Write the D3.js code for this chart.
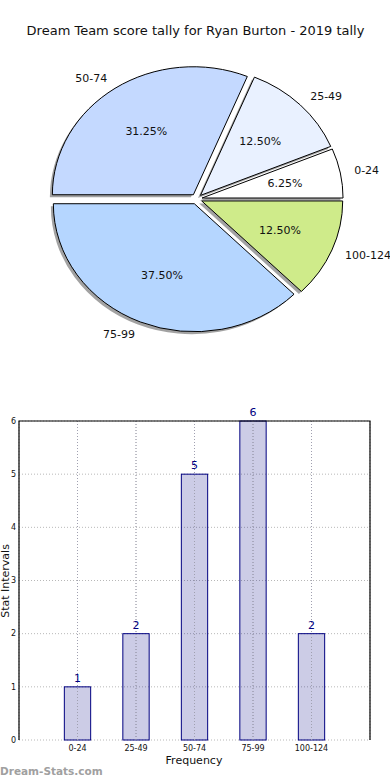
<!DOCTYPE html>
<html>
<head>
<meta charset="utf-8">
<script src="https://cdn.jsdelivr.net/npm/d3@7"></script>
<style>
  body { margin: 0; background: #fff; }
  svg { display: block; font-family: "DejaVu Sans", sans-serif; }
</style>
</head>
<body>
<div id="chart"></div>
<script>
// data
var categories = ["0-24", "25-49", "50-74", "75-99", "100-124"]
var counts = [1, 2, 5, 6, 2]
var pieColors = ["#ffffff", "#e9f1ff", "#c4d9ff", "#b5d6ff", "#cfeb8a"]
var yTicks = [0, 1, 2, 3, 4, 5, 6]
var xGrid = [-1, 0, 1, 2, 3, 4, 5]

var W = 390, H = 780

var svg = d3.select("#chart")
    .append("svg")
    .attr("width", W)
    .attr("height", H)

svg.append("text")
    .attr("x", 195.5)
    .attr("y", 35)
    .attr("text-anchor", "middle")
    .attr("font-size", 13)
    .attr("fill", "#111")
    .text("Dream Team score tally for Ryan Burton - 2019 tally")

// ---- pie (elliptical, like matplotlib with a non-square axes) ----
var cx = 196.5, cy = 199, rx = 141, ry = 128
var explode = 0.04
var total = d3.sum(counts)

// matplotlib starts at 3 o'clock and goes counter clockwise
var pie = d3.pie()
    .sort(null)
    .startAngle(Math.PI / 2)
    .endAngle(Math.PI / 2 - 2 * Math.PI)

var arcs = pie(counts)

var arc = d3.arc()
    .innerRadius(0)
    .outerRadius(100)

function midTheta(d) {
    // angle in matplotlib sense (ccw from +x)
    return Math.PI / 2 - (d.startAngle + d.endAngle) / 2
}

function offset(d, dist) {
    var t = midTheta(d)
    return [cx + dist * rx * Math.cos(t), cy - dist * ry * Math.sin(t)]
}

var pieG = svg.append("g")

// shadows first
pieG.selectAll(".shadow")
    .data(arcs)
    .enter()
    .append("path")
    .attr("class", "shadow")
    .attr("d", arc)
    .attr("transform", function(d) {
        var p = offset(d, explode)
        return "translate(" + (p[0] - 2.5) + "," + (p[1] + 2.5) + ") scale(" + rx / 100 + "," + ry / 100 + ")"
    })
    .attr("fill", "#555")
    .attr("fill-opacity", 0.55)

pieG.selectAll(".slice")
    .data(arcs)
    .enter()
    .append("path")
    .attr("class", "slice")
    .attr("d", arc)
    .attr("transform", function(d) {
        var p = offset(d, explode)
        return "translate(" + p[0] + "," + p[1] + ") scale(" + rx / 100 + "," + ry / 100 + ")"
    })
    .attr("fill", function(d, i) { return pieColors[i] })
    .attr("stroke", "#000")
    .attr("stroke-width", 1)
    .attr("vector-effect", "non-scaling-stroke")

pieG.selectAll(".plabel")
    .data(arcs)
    .enter()
    .append("text")
    .attr("class", "plabel")
    .attr("x", function(d) { return offset(d, explode + 1.1)[0] })
    .attr("y", function(d) { return offset(d, explode + 1.1)[1] })
    .attr("dy", "0.35em")
    .attr("text-anchor", function(d) { return Math.cos(midTheta(d)) > 0 ? "start" : "end" })
    .attr("font-size", 11)
    .attr("fill", "#111")
    .text(function(d, i) { return categories[i] })

pieG.selectAll(".pct")
    .data(arcs)
    .enter()
    .append("text")
    .attr("class", "pct")
    .attr("x", function(d) { return offset(d, explode + 0.6)[0] })
    .attr("y", function(d) { return offset(d, explode + 0.6)[1] })
    .attr("dy", "0.35em")
    .attr("text-anchor", "middle")
    .attr("font-size", 11)
    .attr("fill", "#111")
    .text(function(d) { return (d.value / total * 100).toFixed(2) + "%" })

// ---- bar chart ----
var plotLeft = 19, plotRight = 370, plotTop = 421, plotBottom = 740

var x = d3.scaleLinear()
    .domain([-1, 5])
    .range([plotLeft, plotRight])

var y = d3.scaleLinear()
    .domain([0, 6])
    .range([plotBottom, plotTop])

var barW = x(0.45) - x(0)

var bars = svg.append("g")

// grid
bars.selectAll(".hgrid")
    .data(yTicks)
    .enter()
    .append("line")
    .attr("x1", plotLeft)
    .attr("x2", plotRight)
    .attr("y1", function(d) { return y(d) })
    .attr("y2", function(d) { return y(d) })
    .attr("stroke", "#b8b8b8")
    .attr("stroke-dasharray", "1,2")

bars.selectAll(".vgrid")
    .data(xGrid)
    .enter()
    .append("line")
    .attr("x1", function(d) { return x(d) })
    .attr("x2", function(d) { return x(d) })
    .attr("y1", plotTop)
    .attr("y2", plotBottom)
    .attr("stroke", "#b8b8b8")
    .attr("stroke-dasharray", "1,2")

bars.selectAll("rect")
    .data(counts)
    .enter()
    .append("rect")
    .attr("x", function(d, i) { return x(i) - barW / 2 })
    .attr("y", function(d) { return y(d) })
    .attr("width", barW)
    .attr("height", function(d) { return y(0) - y(d) })
    .attr("fill", "#000080")
    .attr("fill-opacity", 0.2)
    .attr("stroke", "#000080")
    .attr("stroke-width", 1)

// redraw vertical grid over bars like matplotlib
bars.selectAll(".vgrid2")
    .data(d3.range(0, 5))
    .enter()
    .append("line")
    .attr("x1", function(d) { return x(d) })
    .attr("x2", function(d) { return x(d) })
    .attr("y1", plotTop)
    .attr("y2", plotBottom)
    .attr("stroke", "#a0a0b0")
    .attr("stroke-dasharray", "1,2")

bars.selectAll(".val")
    .data(counts)
    .enter()
    .append("text")
    .attr("x", function(d, i) { return x(i) })
    .attr("y", function(d) { return y(d) - 5 })
    .attr("text-anchor", "middle")
    .attr("font-size", 11)
    .attr("fill", "#000080")
    .text(function(d) { return d })

// frame: left, top, right (bottom left to the grid)
bars.append("path")
    .attr("d", "M" + plotLeft + "," + plotBottom + "V" + plotTop + "H" + plotRight + "V" + plotBottom)
    .attr("fill", "none")
    .attr("stroke", "#000")
    .attr("stroke-width", 1.2)

bars.selectAll(".ytick")
    .data(yTicks)
    .enter()
    .append("text")
    .attr("x", plotLeft - 3)
    .attr("y", function(d) { return y(d) })
    .attr("dy", "0.35em")
    .attr("text-anchor", "end")
    .attr("font-size", 8)
    .attr("fill", "#111")
    .text(function(d) { return d })

bars.selectAll(".xtick")
    .data(categories)
    .enter()
    .append("text")
    .attr("x", function(d, i) { return x(i) })
    .attr("y", plotBottom + 11)
    .attr("text-anchor", "middle")
    .attr("font-size", 8)
    .attr("fill", "#111")
    .text(function(d) { return d })

svg.append("text")
    .attr("x", 194)
    .attr("y", 764)
    .attr("text-anchor", "middle")
    .attr("font-size", 11)
    .attr("fill", "#111")
    .text("Frequency")

svg.append("text")
    .attr("transform", "translate(9,581) rotate(-90)")
    .attr("text-anchor", "middle")
    .attr("font-size", 11)
    .attr("fill", "#111")
    .text("Stat Intervals")

svg.append("text")
    .attr("x", 0)
    .attr("y", 775)
    .attr("font-size", 10.5)
    .attr("font-weight", "bold")
    .attr("fill", "#a0a0a0")
    .text("Dream-Stats.com")
</script>
</body>
</html>
